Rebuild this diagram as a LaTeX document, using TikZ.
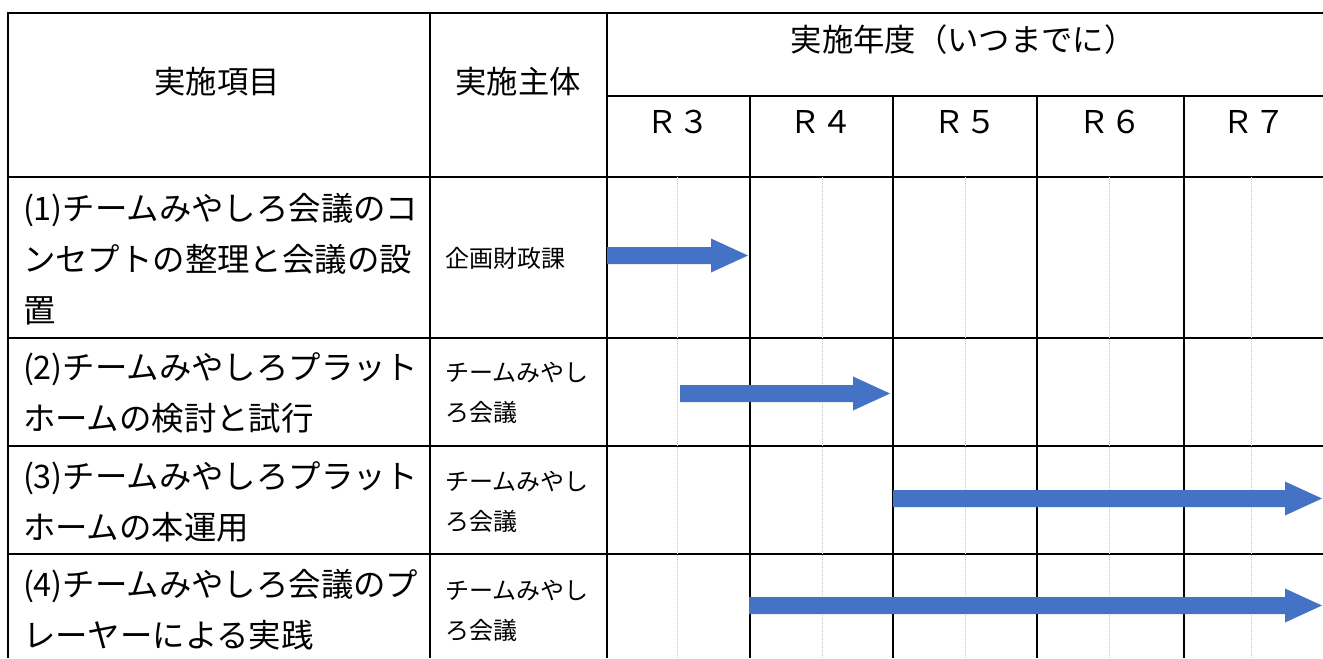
\documentclass[tikz,border=0pt]{standalone}
\usepackage{fontspec}
\newfontfamily\cjk{Noto Sans CJK JP}
\definecolor{planblue}{HTML}{4472C4}
\newcommand\planarrow[3]{\fill[planblue](#1,#3-8.5)--(#2-37,#3-8.5)--(#2-37,#3-17)--(#2,#3)--(#2-37,#3+17)--(#2-37,#3+8.5)--(#1,#3+8.5)--cycle;}
\begin{document}
\begin{tikzpicture}[x=.75pt,y=-.75pt,line width=1.5pt,
  headtext/.style={inner sep=0,font=\cjk\fontsize{23.5}{28}\selectfont},
  itemtext/.style={anchor=west,inner sep=0,align=left,font=\cjk\fontsize{24.3}{38.5}\selectfont},
  actortext/.style={anchor=west,inner sep=0,align=left,font=\cjk\fontsize{18}{30}\selectfont}]
\useasboundingbox (0,0) rectangle (1323,658);
% grid
\draw (1323,13)--(8,13)--(8,658);
\draw (430,13)--(430,658) (607,13)--(607,658);
\draw (607,96)--(1323,96) (8,177)--(1323,177);
\draw (750,96)--(750,658) (893,96)--(893,658) (1037,96)--(1037,658) (1184,96)--(1184,658);
\draw (8,338)--(1323,338) (8,446)--(1323,446) (8,554)--(1323,554);
\draw[gray!45,line width=.75pt,dash pattern=on .75pt off .75pt]
  (677,177)--(677,658) (822,177)--(822,658) (965,177)--(965,658)
  (1109,177)--(1109,658) (1251,177)--(1251,658);
% header
\node[headtext] (item) at (217,82) {実施項目};
\node[headtext] (actor) at (518,82) {実施主体};
\node[headtext] (year) at (963,40) {実施年度（いつまでに）};
\node[headtext] (r3) at (678,122) {Ｒ３};
\node[headtext] (r4) at (821,122) {Ｒ４};
\node[headtext] (r5) at (965,122) {Ｒ５};
\node[headtext] (r6) at (1110,122) {Ｒ６};
\node[headtext] (r7) at (1254,122) {Ｒ７};
% rows
\node[itemtext] (t1) at (22,259) {(1)チームみやしろ会議のコ\\ンセプトの整理と会議の設\\置};
\node[itemtext] (t2) at (22,393) {(2)チームみやしろプラット\\ホームの検討と試行};
\node[itemtext] (t3) at (22,502) {(3)チームみやしろプラット\\ホームの本運用};
\node[itemtext] (t4) at (22,610) {(4)チームみやしろ会議のプ\\レーヤーによる実践};
\node[actortext] (a1) at (444,258) {企画財政課};
\node[actortext] (a2) at (444,393) {チームみやし\\ろ会議};
\node[actortext] (a3) at (444,502) {チームみやし\\ろ会議};
\node[actortext] (a4) at (444,611) {チームみやし\\ろ会議};
% schedule
\planarrow{607}{748}{255.5}
\planarrow{680}{890}{393.5}
\planarrow{893}{1322}{498.5}
\planarrow{749}{1322}{605.5}
\end{tikzpicture}
\end{document}
